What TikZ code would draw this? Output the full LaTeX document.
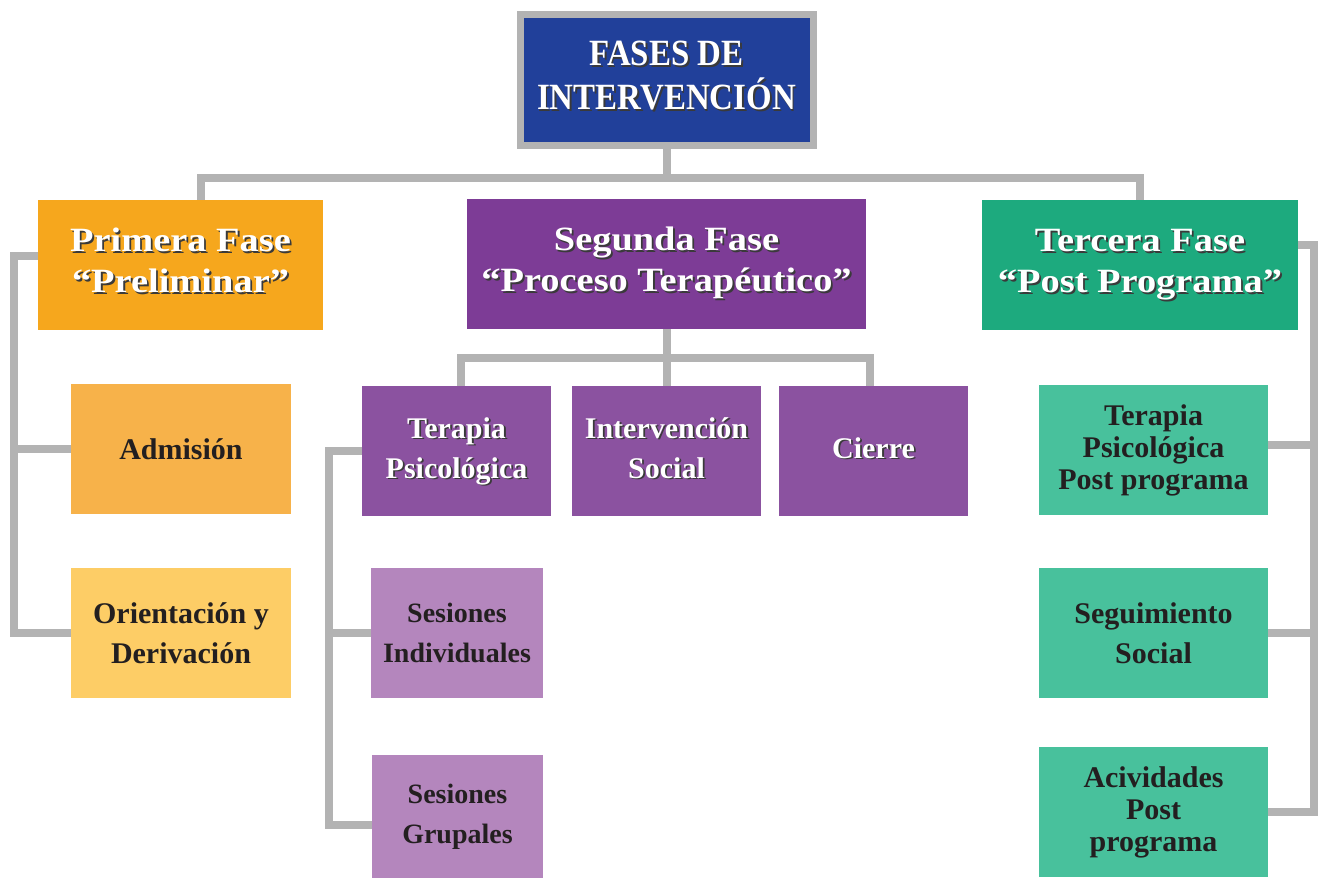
\documentclass[tikz,border=0pt]{standalone}
\usepackage{fontspec}
\setmainfont{Liberation Serif}
\newfontfamily\titlefont{Liberation Serif}[FakeStretch=0.89]
\newfontfamily\headfont{Liberation Serif}[FakeStretch=1.13]

\definecolor{linegray}{HTML}{B3B3B3}
\definecolor{titleblue}{HTML}{21409A}
\definecolor{orangeA}{HTML}{F6A71D}
\definecolor{orangeB}{HTML}{F7B24A}
\definecolor{orangeC}{HTML}{FDCD66}
\definecolor{purpleA}{HTML}{7D3C96}
\definecolor{purpleB}{HTML}{8B52A0}
\definecolor{purpleC}{HTML}{B486BD}
\definecolor{greenA}{HTML}{1DAA7E}
\definecolor{greenB}{HTML}{48C19C}
\definecolor{darktext}{HTML}{231F20}
\definecolor{txtshadow}{HTML}{3A3A3A}

% white text with a soft offset shadow
\newcommand\shadowtext[1]{\leavevmode\rlap{\kern1.8pt\raisebox{-1.8pt}{\color{txtshadow}\begin{tabular}{@{}c@{}}#1\end{tabular}}}\begin{tabular}{@{}c@{}}#1\end{tabular}}

\begin{document}
\begin{tikzpicture}[x=1pt,y=-1pt,
  conn/.style={draw=linegray, line width=8pt, line join=miter},
  box/.style={rectangle, inner sep=0pt, align=center, minimum height=130pt},
  titlebox/.style={box, draw=linegray, line width=7pt, fill=titleblue, minimum width=293pt, minimum height=131pt, text=white, font=\titlefont\bfseries\fontsize{37}{41}\selectfont},
  phase/.style={box, text=white, font=\headfont\bfseries\fontsize{34}{41}\selectfont},
  sub/.style={box, minimum width=189pt, text=white, font=\bfseries\fontsize{30}{40}\selectfont},
  leaf/.style={box, text=darktext, font=\bfseries\fontsize{30}{40}\selectfont}]
\useasboundingbox (0,0) rectangle (1319,879);

% title
\node[titlebox] (fases) at (666.5,80) {\shadowtext{FASES DE\\INTERVENCIÓN}};

% phases
\node[phase, fill=orangeA, minimum width=285pt] (pre) at (180.5,265) {\shadowtext{Primera Fase\\“Preliminar”}};
\node[phase, fill=purpleA, minimum width=399pt] (pro) at (666.5,264) {\shadowtext{Segunda Fase\\“Proceso Terapéutico”}};
\node[phase, fill=greenA, minimum width=316pt] (post) at (1140,265) {\shadowtext{Tercera Fase\\“Post Programa”}};

% first phase
\node[leaf, fill=orangeB, minimum width=220pt] (adm) at (181,449) {Admisión};
\node[leaf, fill=orangeC, minimum width=220pt] (ori) at (181,633) {Orientación y\\Derivación};

% second phase
\node[sub, fill=purpleB] (tera) at (456.5,451) {\shadowtext{Terapia\\Psicológica}};
\node[sub, fill=purpleB] (inte) at (666.5,451) {\shadowtext{Intervención\\Social}};
\node[sub, fill=purpleB] (cier) at (873.5,451) {\shadowtext{Cierre}};
\node[leaf, fill=purpleC, minimum width=172pt, font=\bfseries\fontsize{28}{40}\selectfont] (ind) at (457,633) {Sesiones\\Individuales};
\node[leaf, fill=purpleC, minimum width=171pt, minimum height=123pt, font=\bfseries\fontsize{28}{40}\selectfont] (gru) at (457.5,816.5) {Sesiones\\Grupales};

% third phase
\node[leaf, fill=greenB, minimum width=229pt, font=\bfseries\fontsize{30}{32}\selectfont] (tpp) at (1153.5,450) {Terapia\\Psicológica\\Post programa};
\node[leaf, fill=greenB, minimum width=229pt] (seg) at (1153.5,633) {Seguimiento\\Social};
\node[leaf, fill=greenB, minimum width=229pt, font=\bfseries\fontsize{30}{32}\selectfont] (act) at (1153.5,812) {Acividades\\Post\\programa};

% connectors
\coordinate (hub) at (666.5,178);
\coordinate (hubB) at (666.5,358);
\draw[conn] (fases.south) -- (hub);
\draw[conn] ([xshift=20pt]pre.north) |- (hub) -| (post.north);

\draw[conn] ([yshift=9pt]pre.west) -| ([xshift=-57pt]ori.west) -- (ori.west);
\draw[conn] (adm.west) -- ++(-57,0);

\draw[conn] (pro.south) -- (inte.north);
\draw[conn] ([xshift=4pt]tera.north) |- (hubB) -| ([xshift=-4pt]cier.north);
\draw[conn] (tera.west) -| ([xshift=-43pt,yshift=-8.5pt]gru.west) -- ([yshift=-8.5pt]gru.west);
\draw[conn] (ind.west) -- ++(-42,0);

\draw[conn] ([yshift=20pt]post.east) -| ([xshift=46pt]act.east) -- (act.east);
\draw[conn] ([yshift=5pt]tpp.east) -- ++(46,0);
\draw[conn] (seg.east) -- ++(46,0);
\end{tikzpicture}
\end{document}
